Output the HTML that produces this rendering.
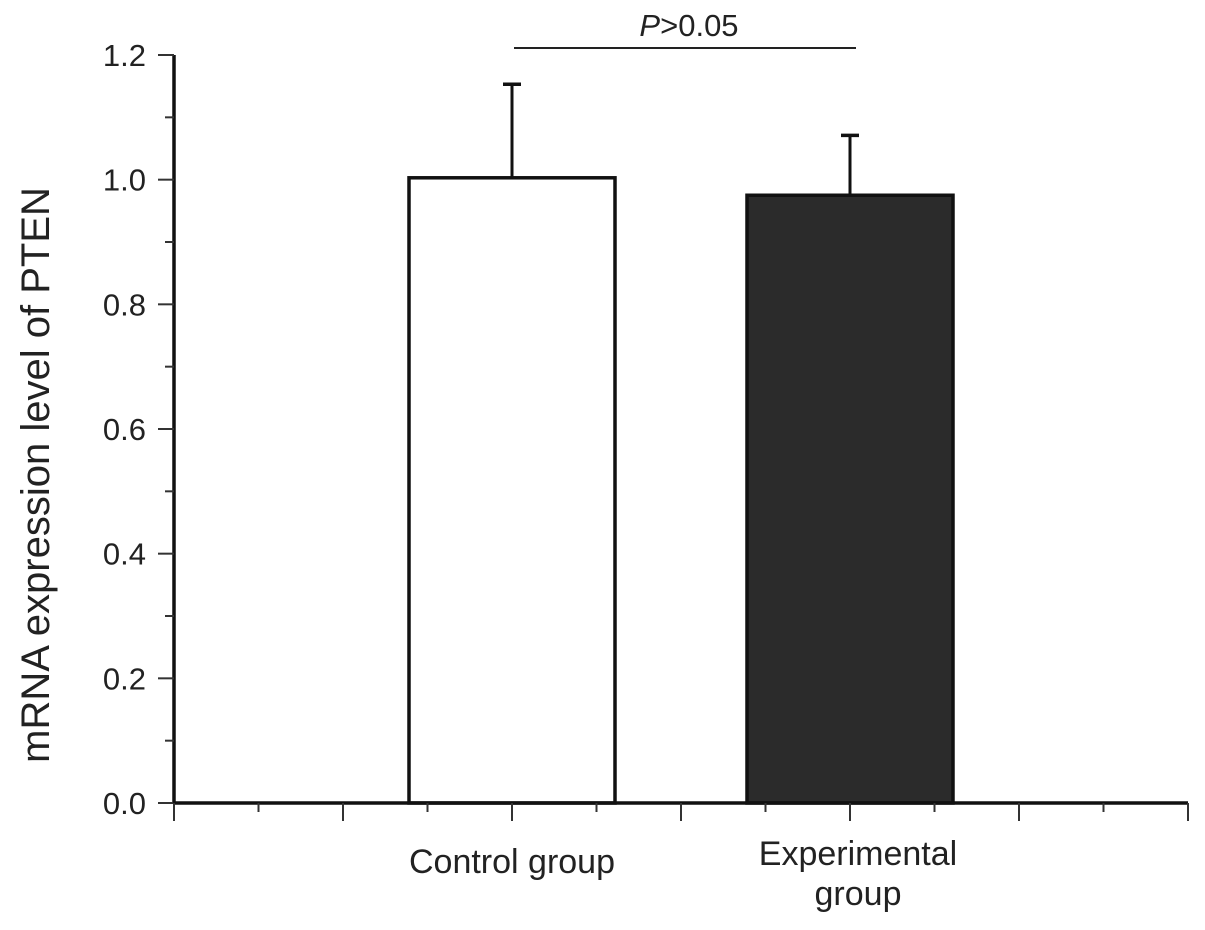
<!DOCTYPE html>
<html><head><meta charset="utf-8"><style>
body{margin:0;background:#fff;}
svg text{font-family:"Liberation Sans",Arial,sans-serif;fill:#222;}
</style></head><body>
<svg id="chart" width="1205" height="925" xmlns="http://www.w3.org/2000/svg"></svg>
<script>
const categories = ["Control group", "Experimental group"];
const means = [1.003, 0.975];
const errors = [0.15, 0.096];
const yTicks = [0.0, 0.2, 0.4, 0.6, 0.8, 1.0, 1.2];
const yTickLabels = ["0.0","0.2","0.4","0.6","0.8","1.0","1.2"];
const sigLabel = ">0.05";

const svg = document.getElementById('chart');
const NS = "http://www.w3.org/2000/svg";
const x0 = 174, x1 = 1188, y0 = 803, yTop = 55, ymax = 1.2;
const ys = v => y0 - (v / ymax) * (y0 - yTop);
const slotW = (x1 - x0) / 6;
const xc = i => x0 + slotW * (2 + 2 * i);
function mk(tag, attrs, parent) {
  const e = document.createElementNS(NS, tag);
  for (const k in attrs) e.setAttribute(k, attrs[k]);
  (parent || svg).appendChild(e);
  return e;
}
categories.forEach((c, i) => {
  const cx = xc(i), w = 206;
  const top = ys(means[i]), et = ys(means[i] + errors[i]);
  const eb = mk('line', {x1: cx, x2: cx, y1: top, y2: et, stroke: '#111', 'stroke-width': 3});
  
  
  const cap = mk('line', {x1: cx - 9, x2: cx + 9, y1: et, y2: et, stroke: '#111', 'stroke-width': 3.5});
  
  
  const r = mk('rect', {x: cx - w / 2, y: top, width: w, height: y0 - top, fill: i === 0 ? '#fff' : '#2b2b2b', stroke: '#111', 'stroke-width': 3.5});
  
  
});
const ya = mk('line', {x1: x0, x2: x0, y1: yTop, y2: y0 + 1, stroke: '#111', 'stroke-width': 3.5});


yTicks.forEach((v, i) => {
  const y = ys(v);
  const t = mk('line', {x1: x0 - 16, x2: x0, y1: y, y2: y, stroke: '#333', 'stroke-width': 2});
  
  
  const l = mk('text', {x: x0 - 28, y: y + 11, 'text-anchor': 'end', 'font-size': 31});
  l.textContent = yTickLabels[i];
  
  
  if (i < yTicks.length - 1) {
    const ym = ys(v + 0.1);
    const m = mk('line', {x1: x0 - 9, x2: x0, y1: ym, y2: ym, stroke: '#333', 'stroke-width': 2});
    
    
  }
});
const xa = mk('line', {x1: x0 - 1, x2: x1, y1: y0, y2: y0, stroke: '#111', 'stroke-width': 3.5});


for (let k = 0; k <= 6; k++) {
  const x = x0 + k * slotW;
  const t = mk('line', {x1: x, x2: x, y1: y0, y2: y0 + 18, stroke: '#333', 'stroke-width': 2});
  
  
  if (k < 6) {
    const m = mk('line', {x1: x + slotW / 2, x2: x + slotW / 2, y1: y0, y2: y0 + 9, stroke: '#333', 'stroke-width': 2});
    
    
  }
}
const l0 = mk('text', {x: xc(0), y: 873, 'text-anchor': 'middle', 'font-size': 34});
l0.textContent = categories[0];


const l1 = mk('text', {x: xc(1) + 8, y: 865, 'text-anchor': 'middle', 'font-size': 34});
l1.textContent = "Experimental";


const l2 = mk('text', {x: xc(1) + 8, y: 905, 'text-anchor': 'middle', 'font-size': 34});
l2.textContent = "group";


const yt = mk('text', {x: 49, y: 475, 'text-anchor': 'middle', 'font-size': 40, transform: 'rotate(-90 49 475)'});
yt.textContent = "mRNA expression level of PTEN";


const sl = mk('line', {x1: xc(0) + 2, x2: xc(1) + 6, y1: 48, y2: 48, stroke: '#222', 'stroke-width': 2});


const st = mk('text', {x: 689, y: 36, 'text-anchor': 'middle', 'font-size': 31});
st.innerHTML = '<tspan font-style="italic">P</tspan>' + sigLabel;


</script>
</body></html>
